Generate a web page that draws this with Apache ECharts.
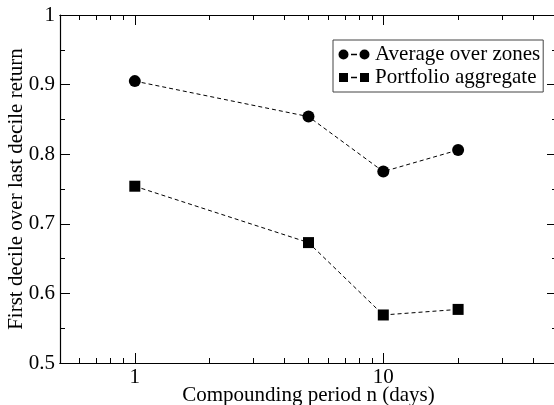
<!DOCTYPE html>
<html>
<head>
<meta charset="utf-8">
<script src="https://cdn.jsdelivr.net/npm/echarts@6/dist/echarts.min.js"></script>
<style>
html,body{margin:0;padding:0;background:#fff;}
#c{width:554px;height:405px;}
</style>
</head>
<body>
<div id="c"></div>
<script>
var periods = [1, 5, 10, 20];
var avgZones = [0.905, 0.854, 0.775, 0.806];
var portfolio = [0.754, 0.673, 0.569, 0.577];
var xMajorTicks = [1, 10];
var xMinorTicks = [0.6, 0.7, 0.8, 0.9, 2, 3, 4, 5, 6, 7, 8, 9, 20, 30, 40];

var FONT = '"Liberation Serif", "DejaVu Serif", serif';
var chart = echarts.init(document.getElementById('c'));

function pairs(xs, ys) { return xs.map(function (x, i) { return [x, ys[i]]; }); }

var circPath = 'path://M0.5,5.5 A5,5 0 1,1 10.5,5.5 A5,5 0 1,1 0.5,5.5 Z M13,4.8 L19,4.8 L19,6.3 L13,6.3 Z M21.5,5.5 A5,5 0 1,1 31.5,5.5 A5,5 0 1,1 21.5,5.5 Z M0,0 L0,0 M32,11 L32,11';
var sqPath = 'path://M1,1 L10,1 L10,10 L1,10 Z M13,4.8 L19,4.8 L19,6.3 L13,6.3 Z M22,1 L31,1 L31,10 L22,10 Z M0,0 L0,0 M32,11 L32,11';

function xAxisDef(pos, ticks, len, showLabel, showName) {
  return {
    type: 'log', logBase: 10, min: 0.5, max: 50, position: pos,
    axisLine: { show: true, onZero: false, lineStyle: { color: '#000', width: 1.2 } },
    axisTick: { show: true, inside: true, length: len, customValues: ticks, lineStyle: { color: '#000', width: 1 } },
    axisLabel: showLabel ? { show: true, customValues: xMajorTicks, margin: 4, color: '#000', fontFamily: FONT, fontSize: 21 } : { show: false },
    splitLine: { show: false },
    name: showName ? 'Compounding period n (days)' : '',
    nameLocation: 'middle', nameGap: 22, nameMoveOverlap: false,
    nameTextStyle: { color: '#000', fontFamily: FONT, fontSize: 21 }
  };
}
function yAxisDef(pos, showLabel, showName) {
  return {
    type: 'value', min: 0.5, max: 1, interval: 0.1, position: pos,
    axisLine: { show: true, onZero: false, lineStyle: { color: '#000', width: 1.2 } },
    axisTick: { show: true, inside: true, length: 10, lineStyle: { color: '#000', width: 1 } },
    minorTick: { show: true, splitNumber: 2, length: 5, lineStyle: { color: '#000', width: 1 } },
    axisLabel: showLabel ? { show: true, margin: 5, color: '#000', fontFamily: FONT, fontSize: 21,
      formatter: function (v) { return Math.abs(v - 1) < 1e-9 ? '1' : v.toFixed(1); } } : { show: false },
    splitLine: { show: false }, minorSplitLine: { show: false },
    name: showName ? 'First decile over last decile return' : '',
    nameLocation: 'middle', nameGap: 33, nameMoveOverlap: false,
    nameTextStyle: { color: '#000', fontFamily: FONT, fontSize: 21 }
  };
}

chart.setOption({
  animation: false,
  backgroundColor: '#fff',
  textStyle: { fontFamily: FONT },
  grid: { left: 60, top: 15, right: -3, bottom: 42, containLabel: false, outerBoundsMode: 'none' },
  xAxis: [
    xAxisDef('bottom', xMajorTicks, 10, true, true),
    xAxisDef('bottom', xMinorTicks, 5, false, false),
    xAxisDef('top', xMajorTicks, 10, false, false),
    xAxisDef('top', xMinorTicks, 5, false, false)
  ],
  yAxis: [
    yAxisDef('left', true, true),
    yAxisDef('right', false, false)
  ],
  legend: {
    orient: 'vertical', left: 333, top: 40,
    padding: [4, 3, 4, 5], itemGap: 2, itemWidth: 32, itemHeight: 11,
    borderColor: '#444', borderWidth: 1, backgroundColor: '#fff',
    textStyle: { color: '#000', fontFamily: FONT, fontSize: 21, lineHeight: 21 },
    data: [
      { name: 'Average over zones', icon: circPath },
      { name: 'Portfolio aggregate', icon: sqPath }
    ]
  },
  series: [
    {
      name: 'Average over zones', type: 'line', xAxisIndex: 0, yAxisIndex: 0,
      data: pairs(periods, avgZones),
      symbol: 'circle', symbolSize: 12,
      itemStyle: { color: '#000' },
      lineStyle: { color: '#000', width: 1, type: [4, 3] }
    },
    {
      name: 'Portfolio aggregate', type: 'line', xAxisIndex: 0, yAxisIndex: 0,
      data: pairs(periods, portfolio),
      symbol: 'rect', symbolSize: 11,
      itemStyle: { color: '#000' },
      lineStyle: { color: '#000', width: 1, type: [4, 3] }
    }
  ]
});
</script>
</body>
</html>
